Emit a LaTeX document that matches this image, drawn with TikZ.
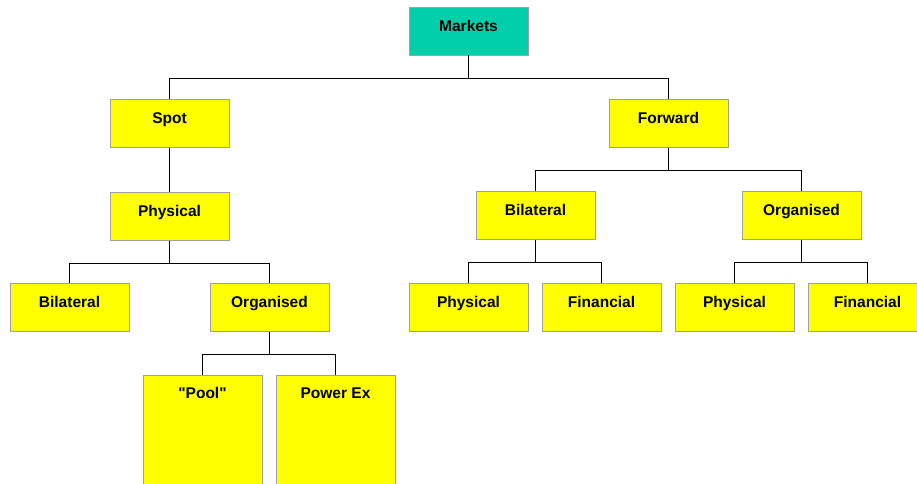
\documentclass[tikz,border=0pt]{standalone}
\usepackage{fontspec}
\setmainfont{Liberation Sans}[Ligatures=TeXOff]
\usetikzlibrary{positioning}
\usepackage{xcolor}
\definecolor{MarketTeal}{HTML}{00CFAA}
\definecolor{BoxYellow}{HTML}{FFFF00}
\definecolor{BoxGrey}{HTML}{A0A0A0}

\begin{document}
\begin{tikzpicture}[
		x=1pt, y=-1pt,
		node distance=44pt,
		mbox/.style={
			draw=BoxGrey,
			fill=BoxYellow,
			line width=0.8pt,
			minimum width=119pt,
			inner xsep=0pt,
			inner ysep=0pt,
			text height=24pt,
			text depth=24pt,
			font=\bfseries\fontsize{15.5}{18}\selectfont
		},
		tallbox/.style={
			mbox,
			text height=23pt,
			text depth=100pt
		},
		elbow/.style={
			draw=black,
			line width=0.8pt,
			to path={(\tikztostart) -- ++(0,22.5) -| (\tikztotarget)}
		}
		]
		
		\clip (0,0) rectangle (917,483);
		\useasboundingbox (0,0) rectangle (917,483);
		
		\node[mbox, fill=MarketTeal] (markets) at (468.5,31) {Markets};
		
		\node[mbox] (spot) at (169.5,123.5) {Spot};
		\node[mbox] (forward) at (668.5,123.5) {Forward};
		
		\node[mbox, below=of spot] (sphys) {Physical};
		\node[mbox] (fbil) at (535.5,215.5) {Bilateral};
		\node[mbox] (forg) at (801.5,215.5) {Organised};
		
		\node[mbox] (sbil) at (69.5,307.5) {Bilateral};
		\node[mbox] (sorg) at (269.5,307.5) {Organised};
		\node[mbox] (fbilphys) at (468.5,307.5) {Physical};
		\node[mbox] (fbilfin) at (601.5,307.5) {Financial};
		\node[mbox] (forgphys) at (734.5,307.5) {Physical};
		\node[mbox] (forgfin) at (867.5,307.5) {Financial};
		
		\node[tallbox, anchor=north] (pool) at (202.5,375) {"Pool"};
		\node[tallbox, anchor=north] (powerex) at (335.5,375) {Power Ex};
		
		\draw[elbow] (markets.south) to (spot.north);
		\draw[elbow] (markets.south) to (forward.north);
		\draw[line width=0.8pt] (spot.south) -- (sphys.north);
		\draw[elbow] (forward.south) to (fbil.north);
		\draw[elbow] (forward.south) to (forg.north);
		\draw[elbow] (sphys.south) to (sbil.north);
		\draw[elbow] (sphys.south) to (sorg.north);
		\draw[elbow] (fbil.south) to (fbilphys.north);
		\draw[elbow] (fbil.south) to (fbilfin.north);
		\draw[elbow] (forg.south) to (forgphys.north);
		\draw[elbow] (forg.south) to (forgfin.north);
		\draw[elbow] (sorg.south) to (pool.north);
		\draw[elbow] (sorg.south) to (powerex.north);
		
	\end{tikzpicture}
\end{document}
